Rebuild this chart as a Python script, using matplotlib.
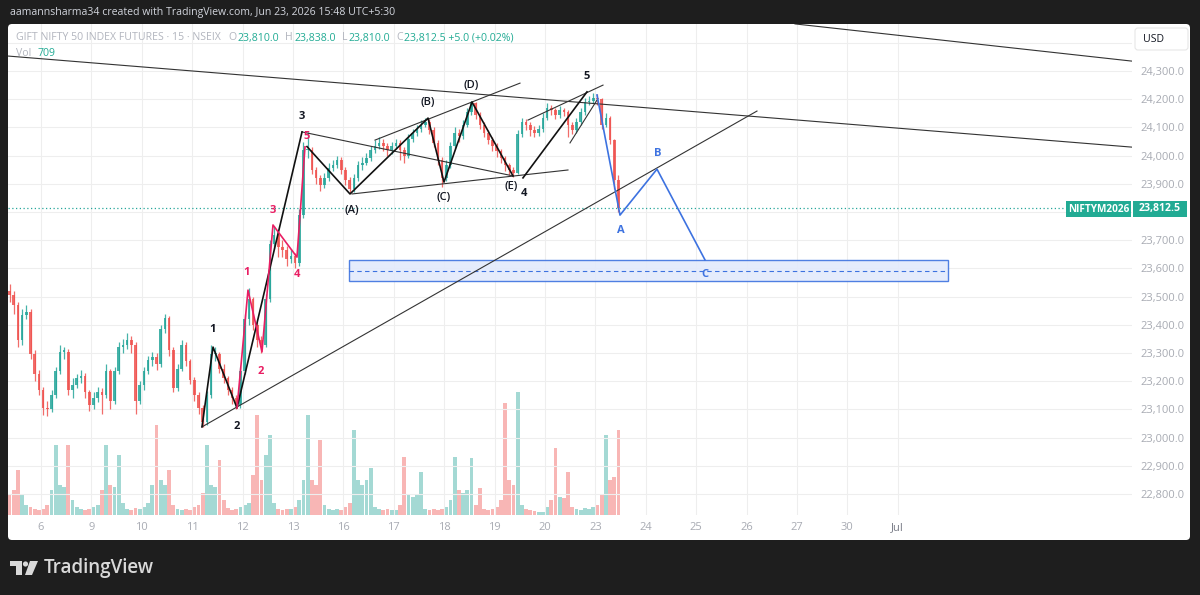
import numpy as np
import matplotlib.pyplot as plt
from matplotlib.patches import FancyBboxPatch, Rectangle, Polygon, Circle
from matplotlib.transforms import IdentityTransform

plt.rcParams['font.family'] = ['Open Sans', 'DejaVu Sans']

W, H = 1200, 595

# 15m bars, resampled by eye (12 bars per session)
closes = [23505, 23470, 23345, 23435, 23445, 23295, 23225, 23170, 23105, 23100,
          23150, 23235, 23305, 23305, 23170, 23185, 23210, 23220, 23160, 23115,
          23140, 23160, 23150, 23235, 23130, 23235, 23320, 23330, 23345, 23330,
          23130, 23185, 23235, 23275, 23285, 23260, 23385, 23425, 23310, 23175,
          23245, 23330, 23270, 23205, 23150, 23105, 23055, 23150, 23295, 23295,
          23245, 23210, 23170, 23140, 23115, 23235, 23420, 23490, 23400, 23345,
          23330, 23490, 23685, 23720, 23675, 23665, 23635, 23645, 23620, 23790,
          24020, 24020, 23950, 23920, 23895, 23920, 23955, 23965, 23985, 23950,
          23915, 23880, 23920, 23965, 23975, 23990, 24020, 24035, 24045, 24035,
          24020, 24035, 24045, 24020, 24000, 24060, 24080, 24095, 24110, 24120,
          24090, 24045, 23985, 23920, 23965, 24035, 24080, 24070, 24110, 24155,
          24185, 24145, 24110, 24080, 24055, 24035, 24015, 23990, 23965, 23950,
          23940, 24075, 24120, 24110, 24090, 24080, 24095, 24135, 24170, 24160,
          24145, 24160, 24155, 24110, 24090, 24120, 24155, 24190, 24195, 24205,
          24200, 24110, 24135, 24055, 23915, 23812.5]
highs = [23545, 23520, 23480, 23455, 23470, 23455, 23310, 23240, 23180, 23130,
         23170, 23250, 23330, 23320, 23315, 23210, 23225, 23240, 23230, 23170,
         23160, 23180, 23175, 23260, 23245, 23250, 23340, 23350, 23370, 23360,
         23340, 23200, 23250, 23290, 23305, 23300, 23400, 23440, 23430, 23320,
         23260, 23345, 23340, 23280, 23215, 23160, 23115, 23165, 23330, 23320,
         23305, 23260, 23220, 23180, 23150, 23250, 23440, 23530, 23500, 23410,
         23360, 23510, 23700, 23750, 23730, 23700, 23680, 23670, 23655, 23810,
         24050, 24085, 24030, 23960, 23930, 23940, 23975, 23985, 24000, 23995,
         23960, 23925, 23935, 23980, 23995, 24010, 24035, 24055, 24065, 24060,
         24045, 24050, 24060, 24055, 24030, 24075, 24095, 24110, 24125, 24135,
         24130, 24100, 24055, 23995, 23985, 24050, 24100, 24095, 24125, 24170,
         24195, 24190, 24155, 24120, 24090, 24065, 24045, 24025, 24000, 23975,
         23960, 24090, 24135, 24130, 24120, 24105, 24110, 24150, 24185, 24180,
         24170, 24175, 24170, 24160, 24120, 24135, 24170, 24205, 24210, 24222,
         24220, 24205, 24150, 24140, 24060, 23930]
lows = [23480, 23440, 23320, 23330, 23420, 23280, 23200, 23150, 23080, 23075,
        23090, 23140, 23225, 23280, 23150, 23140, 23175, 23195, 23140, 23095,
        23100, 23125, 23085, 23140, 23100, 23120, 23225, 23300, 23315, 23300,
        23085, 23120, 23170, 23225, 23255, 23240, 23250, 23370, 23290, 23160,
        23165, 23235, 23255, 23190, 23130, 23085, 23038, 23045, 23140, 23270,
        23230, 23195, 23150, 23120, 23100, 23105, 23225, 23400, 23380, 23320,
        23300, 23320, 23480, 23670, 23640, 23640, 23610, 23620, 23600, 23610,
        23780, 23990, 23935, 23900, 23875, 23885, 23910, 23945, 23955, 23935,
        23895, 23868, 23870, 23910, 23950, 23965, 23980, 24010, 24025, 24015,
        24000, 24005, 24025, 23985, 23975, 23990, 24050, 24070, 24085, 24100,
        24075, 24030, 23965, 23890, 23910, 23955, 24025, 24050, 24060, 24100,
        24145, 24130, 24095, 24065, 24040, 24015, 23995, 23975, 23945, 23930,
        23925, 23935, 24065, 24090, 24070, 24065, 24070, 24085, 24125, 24145,
        24130, 24135, 24140, 24065, 24075, 24080, 24110, 24145, 24180, 24185,
        24180, 24095, 24100, 24040, 23880, 23800]
first_open = 23520
volume = [200, 250, 450, 200, 100, 80, 60, 50, 60, 100,
          250, 700, 300, 280, 700, 150, 80, 60, 50, 60,
          80, 100, 250, 700, 300, 280, 600, 120, 60, 50,
          70, 60, 80, 120, 300, 900, 350, 300, 450, 100,
          60, 50, 60, 50, 80, 100, 220, 700, 300, 280,
          550, 150, 70, 50, 60, 80, 100, 120, 400, 1000,
          350, 600, 800, 120, 60, 50, 60, 60, 80, 150,
          350, 1000, 350, 300, 750, 100, 60, 50, 60, 50,
          80, 120, 850, 350, 300, 350, 470, 80, 60, 50,
          60, 50, 50, 100, 580, 200, 180, 200, 430, 60,
          50, 60, 50, 60, 80, 150, 580, 250, 220, 250,
          570, 100, 270, 60, 50, 60, 80, 150, 1120, 350,
          300, 1230, 100, 60, 50, 40, 30, 30, 80, 150,
          670, 180, 170, 430, 80, 60, 50, 70, 60, 80,
          100, 200, 800, 350, 380, 850]
last_price = 23812.5

day_labels = ["6", "9", "10", "11", "12", "13", "16", "17", "18", "19", "20",
              "23", "24", "25", "26", "27", "30", "Jul"]
price_ticks = list(range(22800, 24500, 100))
hidden_ticks = [23800, 24400]   # covered by the price tag / currency box

# drawings as (session, price)
wave_main = [(3.194, 23038), (3.413, 23321), (3.889, 23105), (5.179, 24084)]
wave_pink = [(3.889, 23105), (4.107, 23523), (4.385, 23304), (4.603, 23754),
             (5.079, 23640), (5.238, 24031)]
wave_abcde = [(5.278, 24032), (6.131, 23864), (7.679, 24133), (7.996, 23906),
              (8.552, 24190), (9.365, 23928)]
wave_45 = [(9.563, 23921), (10.833, 24226)]
wave_proj = [(11.032, 24215), (11.488, 23789), (12.222, 23952), (13.175, 23630)]
trend_lines = [
    [(-0.65, 24353), (21.65, 24030)],
    [(14.96, 24467), (21.65, 24335)],
    [(3.194, 23038), (14.206, 24158)],
    [(6.627, 24055), (9.504, 24257)],
    [(6.171, 23864), (10.456, 23949)],
    [(5.179, 24084), (9.365, 23928)],
    [(9.663, 24126), (11.151, 24250)],
    [(10.496, 24045), (11.032, 24197)],
]
zone = (6.111, 17.996, 23555, 23630)

labels_black = [("1", 3.413, 23382), ("2", 3.889, 23041), ("3", 5.179, 24140),
                ("(A)", 6.171, 23807), ("(B)", 7.679, 24190), ("(C)", 7.996, 23850),
                ("(D)", 8.532, 24247), ("(E)", 9.325, 23889), ("4", 9.583, 23864),
                ("5", 10.833, 24282)]
labels_pink = [("1", 4.087, 23584), ("2", 4.365, 23236), ("3", 4.603, 23807),
               ("4", 5.079, 23580), ("5", 5.278, 24069)]
labels_blue = [("A", 11.508, 23733), ("B", 12.242, 24009), ("C", 13.175, 23580)]

UP = '#26a69a'
DOWN = '#ef5350'
PINK = '#e91e63'
BLUE = '#3d72e0'
GRID = '#eeeeee'
TICK = '#a8abb3'
BG = '#1e1e1e'

fig = plt.figure(figsize=(W / 100, H / 100), dpi=100, facecolor=BG)

def fx(px):
    return px / W

def fy(py):
    return 1 - py / H

# white panel
panel = FancyBboxPatch((8, H - 540), 1182, 516, boxstyle="round,pad=0,rounding_size=4",
                       transform=IdentityTransform(), facecolor='white', edgecolor='none', zorder=-5)
fig.patches.append(panel)

rect = [fx(8), fy(515), fx(1132) - fx(8), fy(24) - fy(515)]
ax = fig.add_axes(rect)
axv = ax.twinx()
ax.set_zorder(axv.get_zorder() + 1)
ax.patch.set_visible(False)
axv.patch.set_visible(False)

n = len(closes)
x = np.arange(n) / 12 - 0.625
c = np.array(closes, dtype=float)
o = np.array([first_open] + closes[:-1], dtype=float)
up = c >= o
cols = [UP if u else DOWN for u in up]
body = np.where(np.abs(c - o) < 4, 4, c - o)
ax.vlines(x, lows, highs, colors=cols, lw=0.9, alpha=0.85, zorder=3)
ax.bar(x, body, bottom=o, width=0.62 / 12, color=cols, linewidth=0, alpha=0.85, zorder=3)

axv.bar(x, volume, width=0.9 / 12, color=cols, alpha=0.42, linewidth=0)
axv.set_ylim(0, 4910)
axv.set_yticks([])
for s in axv.spines.values():
    s.set_visible(False)

# drawings
for ln in trend_lines:
    xs, ys = zip(*ln)
    ax.plot(xs, ys, color='#333333', lw=0.8, zorder=4)
for path in [wave_main, wave_abcde, wave_45]:
    xs, ys = zip(*path)
    ax.plot(xs, ys, color='#111111', lw=1.2, zorder=5)
xs, ys = zip(*wave_pink)
ax.plot(xs, ys, color=PINK, lw=1.2, zorder=5)
xs, ys = zip(*wave_proj)
ax.plot(xs, ys, color=BLUE, lw=1.2, zorder=5)

ax.add_patch(Rectangle((zone[0], zone[2]), zone[1] - zone[0], zone[3] - zone[2],
                       facecolor='#e3eafc', edgecolor=BLUE, lw=1.0, alpha=0.9, zorder=2))
ax.plot([zone[0], zone[1]], [(zone[2] + zone[3]) / 2] * 2, color=BLUE, lw=0.8,
        ls=(0, (4, 3)), zorder=2)

for t, xx, yy in labels_black:
    ax.text(xx, yy, t, color='#131722', fontsize=8, ha='center', va='center',
            fontweight='bold' if len(t) == 1 else 'semibold', zorder=6)
for t, xx, yy in labels_pink:
    ax.text(xx, yy, t, color=PINK, fontsize=8, ha='center', va='center', fontweight='bold', zorder=6)
for t, xx, yy in labels_blue:
    ax.text(xx, yy, t, color=BLUE, fontsize=8, ha='center', va='center', fontweight='bold', zorder=6)

ax.axhline(last_price, color=UP, lw=0.9, ls=(0, (1, 2)), zorder=2)

ax.set_xlim(-0.6548, 21.647)
ax.set_ylim(22725.5, 24466.7)
ax.set_xticks(range(len(day_labels)))
ax.set_xticklabels(day_labels)
ax.set_yticks(price_ticks)
ax.set_yticklabels(["" if p in hidden_ticks else f"{p:,.1f}" for p in price_ticks])
ax.yaxis.tick_right()
ax.tick_params(axis='both', length=0, labelsize=8, colors=TICK)
ax.tick_params(axis='x', pad=5)
ax.tick_params(axis='y', pad=6)
ax.get_xticklabels()[-1].set_color('#787b86')
ax.grid(True, color=GRID, lw=0.8)
ax.set_axisbelow(True)
for s in ax.spines.values():
    s.set_visible(False)

# header line
fig.text(fx(10), fy(12), "aamannsharma34 created with TradingView.com, Jun 23, 2026 15:48 UTC+5:30",
         color='#d1d4dc', fontsize=7.6, ha='left', va='center')

# legend, pieces laid out one after another
LG = '#b2b5be'
TEAL = '#22ab94'
renderer = fig.canvas.get_renderer()

def text_row(x0, y, parts, fs):
    xp = x0
    for s, col, gap in parts:
        t = fig.text(fx(xp), fy(y), s, color=col, fontsize=fs, ha='left', va='center')
        xp += t.get_window_extent(renderer=renderer).width + gap

text_row(16, 38, [("GIFT NIFTY 50 INDEX FUTURES · 15 · NSEIX", LG, 7),
                  ("O", LG, 1.5), ("23,810.0", TEAL, 6),
                  ("H", LG, 1.5), ("23,838.0", TEAL, 6),
                  ("L", LG, 1.5), ("23,810.0", TEAL, 6),
                  ("C", LG, 1.5), ("23,812.5 +5.0 (+0.02%)", TEAL, 0)], 7.6)
text_row(16, 53, [("Vol", LG, 6), ("709", TEAL, 0)], 7.6)

# USD box
fig.patches.append(FancyBboxPatch((1135, H - 50), 53, 22, boxstyle="round,pad=0,rounding_size=3",
                                  transform=IdentityTransform(), facecolor='white',
                                  edgecolor='#e6e6e6', lw=0.8, zorder=2))
fig.text(fx(1143), fy(39), "USD", color='#131722', fontsize=7.6, ha='left', va='center', zorder=3)

# last price tags
fig.patches.append(Rectangle((1066, H - 217), 65, 16, transform=IdentityTransform(),
                             facecolor=TEAL, edgecolor='none', zorder=2))
fig.patches.append(Rectangle((1133, H - 217), 54, 16, transform=IdentityTransform(),
                             facecolor=TEAL, edgecolor='none', zorder=2))
fig.text(fx(1098.5), fy(209), "NIFTYM2026", color='white', fontsize=7.2, fontweight='bold',
         ha='center', va='center', zorder=3)
fig.text(fx(1160), fy(209), f"{last_price:,.1f}", color='white', fontsize=7.6, fontweight='bold',
         ha='center', va='center', zorder=3)

# footer logo
LOGO = '#d9d9d9'
fig.patches.append(Polygon([(10, H - 561), (22, H - 561), (22, H - 575), (16, H - 575), (16, H - 566), (10, H - 566)],
                           closed=True, transform=IdentityTransform(), facecolor=LOGO, edgecolor='none'))
fig.patches.append(Circle((25.5, H - 564), 2.6, transform=IdentityTransform(), facecolor=LOGO, edgecolor='none'))
fig.patches.append(Polygon([(30, H - 561), (38, H - 561), (32, H - 575), (25, H - 575)],
                           closed=True, transform=IdentityTransform(), facecolor=LOGO, edgecolor='none'))
fig.text(fx(44), fy(568), "TradingView", color=LOGO, fontsize=13.5, fontweight='semibold',
         ha='left', va='center')

fig.savefig("out.png", dpi=100, facecolor=BG)
